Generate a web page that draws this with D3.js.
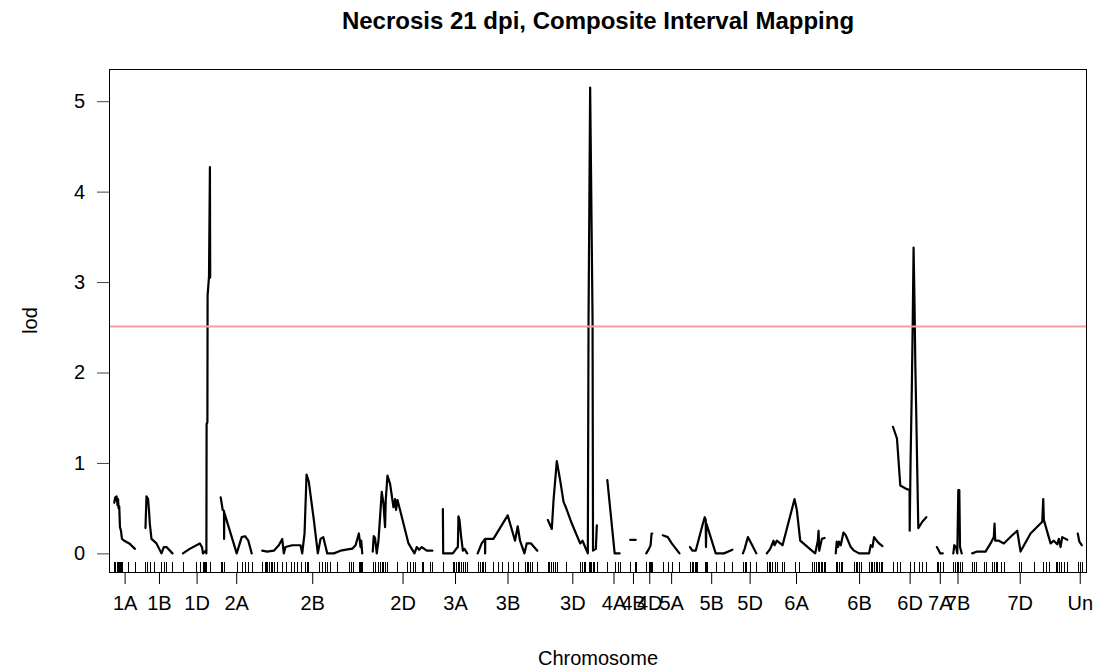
<!DOCTYPE html>
<html>
<head>
<meta charset="utf-8">
<script src="https://cdn.jsdelivr.net/npm/d3@7"></script>
<style>
  body { margin: 0; background: #fff; }
  text { font-family: "Liberation Sans", Arial, Helvetica, sans-serif; fill: #000; }
</style>
</head>
<body>
<svg id="chart" width="1106" height="668"></svg>
<script>
// Chromosome names, in plotting order
const chromosomes = ["1A","1B","1D","2A","2B","2D","3A","3B","3D","4A","4B","4D",
                     "5A","5B","5D","6A","6B","6D","7A","7B","7D","Un"];

// Marker positions (cM) on each chromosome
const markerPos = [
  [0, 2.5, 5.8, 8.3, 10.8, 14.3, 16.8, 19.3, 33.3, 51.8],
  [0, 4, 12.5, 20.8, 40, 45.8, 52.5, 67.5],
  [0, 33.5, 41.8, 50, 52.5, 55, 58.5, 66.8, 68],
  [0, 2.5, 8.3, 40, 52.5, 60.8, 69, 77.5],
  [0, 5.8, 10, 12.5, 16.5, 20.8, 25, 29, 37.5, 50, 58.3, 70.8, 79, 87.5, 95.8, 105.8, 110.8, 114, 141.5, 150, 155.8, 162.5, 169, 187.5, 216.5, 220.8, 227.5, 241.5, 244, 247.5, 250],
  [0, 5.8, 12.5, 18.3, 22.5, 26.8, 30.8, 35, 60, 85, 93.3, 101.8, 105.8, 122.5, 126.8, 143.3, 149],
  [0, 25, 29, 33.3, 37.5, 41.5, 45.8, 50, 55.8, 60.8],
  [0, 5.8, 10, 14.3, 18.3, 39.3, 51.8, 60, 75, 89.3, 101.8, 118.3, 122.5, 126.8, 130.8, 135, 149],
  [0, 3.3, 8.3, 12.5, 16.8, 22.5, 45, 80.8, 85, 89.3, 91.8, 93.3, 101.8, 105, 105.8, 108.3, 111.8, 114.3, 122.5],
  [0, 18.3, 26.8, 30.8],
  [0, 12.5, 14],
  [0, 6.8, 9.3, 11.8, 13.3, 15],
  [0, 12.5, 22.5, 41.8],
  [0, 6, 8.5, 11.8, 14.3, 18.5, 36.8, 39.3, 41.8, 64.3, 85, 106],
  [0, 4.3, 8.5, 16.8, 33.5],
  [0, 4.3, 8.5, 12.5, 21, 25, 37.5, 41.8, 69.3, 79.3, 112.5, 116.8, 122.5, 127.5, 131, 134.3, 137.5, 141.8, 146],
  [0, 4.3, 8.3, 12.5, 16.8, 45.8, 50, 54.3, 58.3, 64.3, 83.3, 87.5, 91.8, 95.8, 100, 104.3, 108.3, 112.5, 116.8],
  [0, 10, 18.3, 41.5, 51.5, 64, 72.5, 83.3],
  [0, 4, 8.3, 15],
  [0, 4.3, 8.5, 12.5, 16.8, 21],
  [0, 4, 8.3, 29, 33.3, 50, 54, 58.3, 62.5, 70.8, 79, 116.5, 120.8, 154, 177.5, 183.3, 191.5, 208.3, 212.5, 216.5, 220.8, 229, 237.5],
  [0, 5.8, 10]
];

// Scan positions (cM) along each chromosome
const lodPos = [
  [0, 2.5, 5.8, 8.3, 9.5, 10.8, 12.5, 14.3, 16.8, 19.3, 25, 37.5, 51.8],
  [0, 2.5, 6.5, 9, 10.8, 15, 27.5, 40, 45.8, 52.5, 67.5],
  [0, 16.8, 41.8, 47.5, 50, 56.8, 58.5, 59, 61, 61.5, 65, 67.3, 68],
  [0, 2.5, 5, 8.3, 8.5, 9, 40, 52.5, 60.8, 69, 77.5],
  [0, 12.5, 29, 41.5, 50, 54, 58.3, 75, 95.8, 100, 105.8, 110.8, 116.5, 129, 139, 145.8, 152.5, 162.5, 179, 195.8, 220.8, 225, 233.3, 241.5, 245.8, 247.5, 250],
  [0, 2.5, 5.8, 10, 14.3, 22.5, 26.8, 30.8, 32.5, 36.8, 43.3, 51.8, 55.8, 58.3, 61.8, 68.3, 89.3, 104.3, 110, 115.8, 122.5, 135, 149],
  [0, 0.8, 25, 33.3, 37.5, 39, 41.5, 45.8, 50, 54, 60.8],
  [0, 10, 18.3, 18.5, 19, 39.3, 75, 93.3, 100, 105.8, 116.8, 122.5, 133.3, 149],
  [0, 10, 14.3, 22.5, 30.8, 39.3, 45, 60, 80.8, 86.8, 93.3, 100, 101.8, 105.8, 111.8, 113, 120, 122.5],
  [0, 18.3, 30.8],
  [0, 14],
  [0, 6.7, 10.8, 13.3, 15],
  [0, 12.5, 22.5, 41.8],
  [0, 6, 14.3, 26.8, 33.5, 36.8, 39.3, 40, 41, 64.3, 85, 106],
  [0, 4.3, 12.5, 21, 33.5],
  [0, 8.5, 16.8, 19.3, 25, 33.5, 39.3, 69.3, 75, 83.5, 112.5, 121, 127.5, 129.3, 131, 137.5, 144.3],
  [0, 2.5, 5.8, 8.3, 12.5, 19.3, 25, 37.5, 45.8, 58.3, 83.3, 87.5, 91.8, 95.8, 102.5, 108.3, 116.8],
  [0, 10, 18.3, 35, 41.5, 41.8, 44, 47, 49.5, 51.5, 54, 55.8, 58.3, 60.8, 63.3, 73.3, 83.3],
  [0, 4, 8.3, 15],
  [0, 2.5, 6.8, 10, 12.5, 15, 16.8, 21],
  [0, 12.5, 33.3, 45.8, 54, 55.8, 57.5, 66.5, 79, 100, 112.5, 120.8, 145.8, 175, 177.5, 179, 195.8, 204, 212.5, 216.5, 220.8, 225, 233.3, 237.5],
  [0, 4, 10]
];

// LOD scores at those positions
const lodVal = [
  [0.56, 0.62, 0.63, 0.53, 0.60, 0.50, 0.52, 0.29, 0.25, 0.16, 0.14, 0.11, 0.05],
  [0.28, 0.63, 0.60, 0.46, 0.33, 0.16, 0.11, 0.0, 0.07, 0.07, 0.0],
  [0.0, 0.05, 0.11, 0.07, 0.0, 0.03, 0.0, 1.43, 1.45, 2.85, 3.06, 4.27, 3.05],
  [0.62, 0.55, 0.48, 0.47, 0.16, 0.45, 0.0, 0.18, 0.19, 0.14, 0.0],
  [0.03, 0.02, 0.03, 0.09, 0.16, 0.0, 0.07, 0.09, 0.09, 0.0, 0.22, 0.87, 0.79, 0.37, 0.0, 0.16, 0.18, 0.0, 0.0, 0.03, 0.05, 0.05, 0.09, 0.22, 0.07, 0.14, 0.0],
  [0.02, 0.19, 0.17, 0.0, 0.14, 0.68, 0.55, 0.29, 0.59, 0.86, 0.77, 0.51, 0.60, 0.48, 0.59, 0.48, 0.11, 0.0, 0.07, 0.04, 0.07, 0.03, 0.03],
  [0.49, 0.0, 0.0, 0.05, 0.07, 0.41, 0.37, 0.18, 0.03, 0.05, 0.0],
  [0.0, 0.11, 0.16, 0.0, 0.16, 0.16, 0.42, 0.14, 0.30, 0.14, 0.0, 0.11, 0.11, 0.03],
  [0.37, 0.27, 0.59, 1.02, 0.81, 0.57, 0.51, 0.33, 0.11, 0.14, 0.07, 0.0, 2.6, 5.15, 2.6, 0.03, 0.05, 0.31],
  [0.81, 0.0, 0.0],
  [0.15, 0.15],
  [0.0, 0.05, 0.09, 0.22, 0.22],
  [0.20, 0.18, 0.11, 0.0],
  [0.07, 0.03, 0.03, 0.24, 0.35, 0.40, 0.37, 0.07, 0.33, 0.0, 0.0, 0.04],
  [0.0, 0.05, 0.18, 0.11, 0.0],
  [0.0, 0.05, 0.14, 0.09, 0.14, 0.11, 0.09, 0.60, 0.48, 0.14, 0.03, 0.0, 0.14, 0.25, 0.03, 0.16, 0.17],
  [0.0, 0.13, 0.07, 0.13, 0.09, 0.23, 0.20, 0.07, 0.03, 0.0, 0.0, 0.09, 0.07, 0.18, 0.14, 0.11, 0.08],
  [1.40, 1.27, 0.75, 0.71, 0.70, 0.25, 1.03, 1.80, 2.60, 3.38, 2.72, 2.10, 1.51, 0.89, 0.28, 0.35, 0.40],
  [0.07, 0.04, 0.0, 0.0],
  [0.0, 0.09, 0.07, 0.0, 0.70, 0.70, 0.07, 0.0],
  [0.0, 0.02, 0.02, 0.11, 0.18, 0.33, 0.14, 0.14, 0.11, 0.20, 0.25, 0.02, 0.22, 0.35, 0.60, 0.37, 0.11, 0.14, 0.10, 0.16, 0.07, 0.18, 0.16, 0.15],
  [0.22, 0.13, 0.09]
];

const yTicks = [0, 1, 2, 3, 4, 5];
const threshold = 2.51;            // significance threshold (LOD)
const gapCM = 26.25;               // spacing between chromosomes
const titleText = "Necrosis 21 dpi, Composite Interval Mapping";

// ---- layout ----
const plot = { left: 109, right: 1087, top: 69, bottom: 572 };
const svg = d3.select("#chart");
svg.append("rect").attr("width", 1106).attr("height", 668).attr("fill", "#fff");

// chromosome extents and offsets on the genome-wide axis
const chromLen = markerPos.map((m, i) => Math.max(d3.max(m), d3.max(lodPos[i])));
const offsets = [];
let acc = gapCM / 2;
chromLen.forEach(L => { offsets.push(acc); acc += L + gapCM; });
const totalLen = acc - gapCM / 2;

const x = d3.scaleLinear().domain([0, totalLen]).range([plot.left, plot.right]);
const maxLod = d3.max(lodVal.flat());
const y = d3.scaleLinear().domain([-0.04 * maxLod, 1.04 * maxLod]).range([plot.bottom, plot.top]);

// LOD curves, one path per chromosome
const line = d3.line().x(d => x(d[0])).y(d => y(d[1]));
const curves = svg.append("g").attr("fill", "none").attr("stroke", "#000")
  .attr("stroke-width", 2.2).attr("stroke-linejoin", "round").attr("stroke-linecap", "round");
chromosomes.forEach((c, i) => {
  const pts = lodPos[i].map((p, j) => [offsets[i] + p, lodVal[i][j]]);
  curves.append("path").attr("d", line(pts));
});

// marker rug along the bottom
const rug = svg.append("g").attr("stroke", "#000").attr("stroke-width", 1);
chromosomes.forEach((c, i) => {
  markerPos[i].forEach(m => {
    const px = Math.round(x(offsets[i] + m)) + 0.5;
    rug.append("line").attr("x1", px).attr("x2", px)
      .attr("y1", plot.bottom).attr("y2", plot.bottom - 10);
  });
});

// threshold line
svg.append("line")
  .attr("x1", plot.left).attr("x2", plot.right)
  .attr("y1", y(threshold)).attr("y2", y(threshold))
  .attr("stroke", "#f2a0a8").attr("stroke-width", 2);

// plot frame
svg.append("rect")
  .attr("x", plot.left + 0.5).attr("y", plot.top + 0.5)
  .attr("width", plot.right - plot.left - 1).attr("height", plot.bottom - plot.top)
  .attr("fill", "none").attr("stroke", "#000").attr("stroke-width", 1);

// y axis
const yAxis = d3.axisLeft(y).tickValues(yTicks).tickSize(12).tickPadding(12).tickFormat(d3.format("d"));
const gy = svg.append("g").attr("transform", `translate(${plot.left},0)`).call(yAxis);
gy.select(".domain").remove();
gy.selectAll(".tick line").attr("stroke", "#444");
gy.selectAll(".tick text").attr("font-size", 20).attr("font-family", "Liberation Sans, Arial, sans-serif");

// x axis: one tick at the middle of each chromosome
const mids = chromosomes.map((c, i) => offsets[i] + chromLen[i] / 2);
const xAxis = d3.axisBottom(x).tickValues(mids).tickSize(12).tickPadding(12)
  .tickFormat((d, i) => chromosomes[i]);
const gx = svg.append("g").attr("transform", `translate(0,${plot.bottom})`).call(xAxis);
gx.select(".domain").remove();
gx.selectAll(".tick line").attr("stroke", "#000");
gx.selectAll(".tick text").attr("font-size", 20).attr("font-family", "Liberation Sans, Arial, sans-serif");

// titles
svg.append("text").attr("x", (plot.left + plot.right) / 2).attr("y", 29)
  .attr("text-anchor", "middle").attr("font-size", 24).attr("font-weight", "bold")
  .text(titleText);
svg.append("text").attr("x", (plot.left + plot.right) / 2).attr("y", 665)
  .attr("text-anchor", "middle").attr("font-size", 20).text("Chromosome");
svg.append("text").attr("transform", `translate(37,${(plot.top + plot.bottom) / 2}) rotate(-90)`)
  .attr("text-anchor", "middle").attr("font-size", 20).text("lod");
</script>
</body>
</html>
